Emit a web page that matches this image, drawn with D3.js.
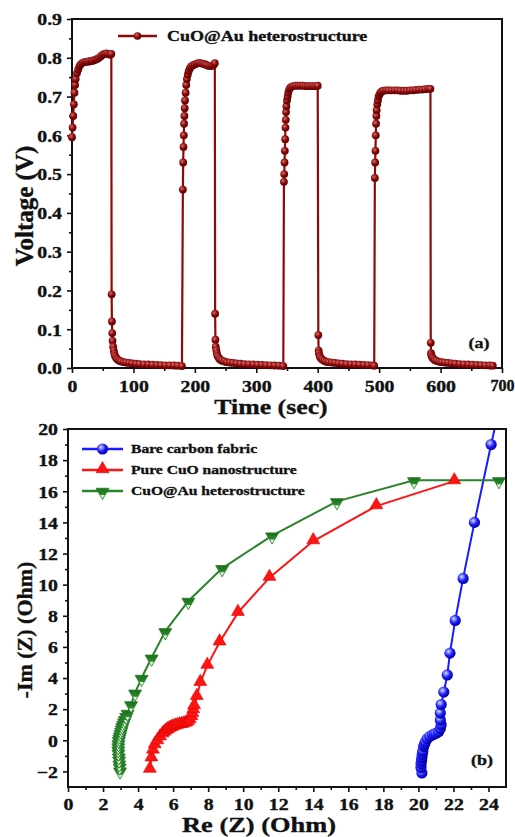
<!DOCTYPE html>
<meta charset="utf-8">
<style>
body { margin: 0; background: #fff; }
svg { display: block; }
text { font-family: "Liberation Serif", "Times New Roman", serif; font-weight: bold; fill: #111; stroke: #111; stroke-width: 0.35px; }
.domain { display: none; }
.tick line { stroke: #111; stroke-width: 1.6px; }
</style>
<svg width="515" height="837"></svg>
<script src="https://d3js.org/d3.v7.min.js"></script>
<script>

// ---- panel (a): galvanostatic charge / discharge, [time (s), voltage (V)]
const cycle1 = [[0,0.595],[1,0.62],[2,0.65],[3,0.68],[4,0.71],[5,0.73],[6,0.745],[8,0.76],[10,0.77],[12,0.778],
  [14,0.783],[17,0.787],[20,0.789],[23,0.79],[26,0.79],[29,0.791],[32,0.792],[35,0.793],[38,0.795],[41,0.797],
  [44,0.80],[47,0.804],[50,0.808],[53,0.81],[56,0.811],[59,0.81],[62,0.808],[64,0.81],
  [64.5,0.19],[65,0.12],[65.5,0.09],[66,0.07],[67,0.055],[68,0.045],[69,0.037],[70,0.031],[72,0.026],[74,0.022],
  [77,0.019],[80,0.017],[84,0.015],[88,0.014],[93,0.013],[98,0.012],[104,0.011],[110,0.010],[117,0.0095],
  [124,0.009],[131,0.0085],[138,0.008],[145,0.0075],[152,0.007],[159,0.0068],[166,0.0065],[172,0.006],[179,0.005]];
const cycle2 = [[180.5,0.46],[181,0.53],[181.5,0.57],[182,0.60],[182.5,0.63],[183,0.65],[183.5,0.67],[184,0.69],
  [185,0.71],[186,0.73],[187,0.745],[188.5,0.757],[190,0.766],[192,0.773],[194,0.778],[197,0.781],[200,0.783],
  [203,0.785],[206,0.786],[209,0.786],[212,0.785],[215,0.784],[218,0.782],[221,0.78],[224,0.779],[227,0.779],
  [230,0.781],[232.5,0.786],
  [233,0.14],[233.5,0.073],[234,0.055],[235,0.045],[236,0.037],[237,0.031],[239,0.026],[241,0.022],[244,0.019],
  [248,0.017],[252,0.015],[257,0.014],[262,0.013],[268,0.012],[274,0.011],[281,0.010],[288,0.0095],[295,0.009],
  [302,0.0085],[309,0.008],[316,0.0075],[323,0.007],[330,0.0065],[337,0.006],[344,0.005]];
const cycle3 = [[345,0.48],[345.5,0.50],[346,0.53],[346.5,0.56],[347,0.59],[347.5,0.62],[348,0.64],[348.5,0.66],
  [349,0.675],[350,0.69],[351,0.70],[352,0.71],[353.5,0.718],[355,0.722],[357,0.725],[360,0.727],[364,0.728],
  [368,0.728],[372,0.728],[376,0.728],[380,0.727],[384,0.727],[388,0.727],[392,0.727],[396,0.727],[400,0.728],
  [401,0.085],[401.5,0.045],[402,0.038],[403,0.032],[404,0.028],[406,0.024],[408,0.021],[411,0.018],[414,0.016],
  [418,0.015],[423,0.014],[428,0.013],[434,0.012],[440,0.011],[447,0.010],[454,0.0095],[461,0.009],[468,0.0085],
  [475,0.008],[482,0.0075],[489,0.007],[492,0.006]];
const cycle4 = [[493,0.49],[493.5,0.53],[494,0.56],[494.5,0.60],[495,0.63],[495.5,0.65],[496,0.665],[497,0.68],
  [498,0.69],[499,0.70],[500.5,0.705],[502,0.71],[504,0.713],[507,0.715],[511,0.716],[515,0.716],[520,0.716],
  [525,0.716],[530,0.716],[535,0.715],[540,0.715],[545,0.715],[550,0.716],[555,0.716],[560,0.717],[565,0.718],
  [570,0.718],[575,0.719],[580,0.72],[583.5,0.72],
  [584,0.065],[584.5,0.038],[585,0.033],[586,0.029],[587,0.026],[589,0.023],[591,0.02],[594,0.018],[598,0.016],
  [602,0.015],[607,0.014],[612,0.013],[618,0.012],[624,0.011],[631,0.010],[638,0.0095],[645,0.009],[652,0.0085],
  [659,0.008],[666,0.0075],[673,0.007],[680,0.0065],[685,0.006]];
const timeTicks = [0,100,200,300,400,500,600,700];
const voltTicks = [0,0.1,0.2,0.3,0.4,0.5,0.6,0.7,0.8,0.9];

// ---- panel (b): Nyquist plots, [Re(Z), -Im(Z)] in Ohm
const bareCarbon = [[20.2,-2.1],[20.15,-1.75],[20.15,-1.5],[20.18,-1.3],[20.2,-1.1],[20.22,-0.9],[20.25,-0.7],
  [20.3,-0.4],[20.35,-0.25],[20.4,-0.1],[20.5,0.1],[20.65,0.25],[20.8,0.35],[20.9,0.4],[21.0,0.45],[21.15,0.55],
  [21.25,0.75],[21.3,1.0],[21.25,1.3],[21.25,1.75],[21.3,2.3],[21.45,3.1],
  [21.65,4.2],[21.8,5.6],[22.1,7.7],[22.55,10.4],[23.2,14.0],[24.15,19.0],[24.55,21.0]];
const pureCuO = [[4.67,-1.88],[4.76,-1.15],[4.85,-0.65],[4.95,-0.3],[5.1,-0.05],[5.25,0.2],[5.4,0.4],[5.5,0.5],
  [5.6,0.6],[5.7,0.68],[5.8,0.75],[5.9,0.8],[6.0,0.85],[6.12,0.9],[6.25,0.95],[6.38,0.98],[6.5,1.0],[6.62,1.05],
  [6.75,1.1],[6.85,1.18],[6.95,1.3],[7.05,1.5],[7.1,1.7],[7.15,1.95],[7.2,2.2],[7.35,2.8],[7.55,3.7],
  [7.95,4.8],[8.65,6.3],[9.7,8.2],[11.5,10.45],[14.0,12.8],[17.6,15.05],[22.05,16.65]];
const cuoAu = [[2.97,-1.95],[2.95,-1.7],[2.93,-1.5],[2.92,-1.25],[2.9,-1.05],[2.88,-0.8],[2.87,-0.6],[2.87,-0.4],
  [2.88,-0.2],[2.9,0],[2.93,0.15],[2.96,0.3],[3.0,0.45],[3.03,0.6],[3.07,0.75],[3.1,0.9],
  [3.15,1.05],[3.2,1.2],[3.25,1.35],[3.32,1.55],[3.4,1.75],[3.6,2.3],[3.83,3.05],[4.2,4.0],[4.77,5.3],[5.55,7.0],
  [6.87,8.95],[8.8,11.05],[11.65,13.15],[15.35,15.35],[19.75,16.7],[24.6,16.7]];
const reTicks = d3.range(0, 25, 2);
const imTicks = d3.range(-2, 21, 2);
const nyquistNames = ["Bare carbon fabric", "Pure CuO nanostructure", "CuO@Au heterostructure"];

const S = 1.2; // glyphs in the figure are drawn wider than plain Times

var svg = d3.select("svg");
var defs = svg.append("defs");

function radial(id, c0, c1, c2) {
  var g = defs.append("radialGradient").attr("id", id).attr("cx", "38%").attr("cy", "35%").attr("r", "65%");
  g.append("stop").attr("offset", "0%").attr("stop-color", c0);
  g.append("stop").attr("offset", "55%").attr("stop-color", c1);
  g.append("stop").attr("offset", "100%").attr("stop-color", c2);
}
radial("ballRed", "#d86a6a", "#8b0a0a", "#5a0000");
radial("ballBlue", "#d8e0ff", "#2020ff", "#0000a0");
var gg = defs.append("linearGradient").attr("id", "triGreen").attr("x1", 0).attr("y1", 0).attr("x2", 0).attr("y2", 1);
[["0%","#2a8a2a"],["12%","#f2fff2"],["36%","#e8f8e8"],["44%","#2a8a2a"],["100%","#1c6e1c"]].forEach(function(s) {
  gg.append("stop").attr("offset", s[0]).attr("stop-color", s[1]);
});

function stretchText(sel) {
  sel.each(function() {
    var t = d3.select(this);
    var x = +t.attr("x") || 0;
    t.attr("transform", "translate(" + x + ",0) scale(" + S + ",1) translate(" + (-x) + ",0)");
  });
}

// ================= panel (a) =================
var xa = d3.scaleLinear().domain([0, 700]).range([72, 502]);
var ya = d3.scaleLinear().domain([0, 0.9]).range([368, 19]);

svg.append("g").attr("transform", "translate(0,368)")
  .call(d3.axisBottom(xa).tickValues(d3.range(50, 700, 100)).tickSize(3).tickFormat(""));
var axb = svg.append("g").attr("transform", "translate(0,368)")
  .call(d3.axisBottom(xa).tickValues(timeTicks).tickSize(5).tickFormat(d3.format("d")));
axb.selectAll("text").attr("y", 12).attr("dy", "0.71em").style("font-size", "16.5px").call(stretchText);
// last label sits at the right edge of the page: keep it whole
axb.selectAll("text").filter(function(d) { return d === 700; })
  .attr("transform", null).attr("text-anchor", "start").attr("x", -12).style("font-size", "16px");

svg.append("g").attr("transform", "translate(72,0)")
  .call(d3.axisLeft(ya).tickValues(d3.range(0.05, 0.9, 0.1)).tickSize(3).tickFormat(""));
var axl = svg.append("g").attr("transform", "translate(72,0)")
  .call(d3.axisLeft(ya).tickValues(voltTicks).tickSize(5).tickFormat(d3.format(".1f")));
axl.selectAll("text").attr("x", -10).attr("dy", "0.35em").style("font-size", "16.5px")
  .each(function() { d3.select(this).attr("transform", "scale(" + S + ",1) translate(" + (10 - 10 / S) + ",0)"); });

svg.append("rect").attr("x", 72).attr("y", 19).attr("width", 430).attr("height", 349)
  .attr("fill", "none").attr("stroke", "#111").attr("stroke-width", 2);

var gcd = [cycle1, cycle2, cycle3, cycle4].reduce(function(a, b) { return a.concat(b); }, []);
var lineA = d3.line().x(function(d) { return xa(d[0]); }).y(function(d) { return ya(d[1]); });
svg.append("path").datum(gcd).attr("d", lineA)
  .attr("fill", "none").attr("stroke", "#8b0a0a").attr("stroke-width", 2.2);
svg.append("g").selectAll("circle").data(gcd).join("circle")
  .attr("cx", function(d) { return xa(d[0]); })
  .attr("cy", function(d) { return ya(d[1]); })
  .attr("r", 3.9).attr("fill", "url(#ballRed)");

// legend (a)
svg.append("line").attr("x1", 118).attr("x2", 157).attr("y1", 36).attr("y2", 36)
  .attr("stroke", "#8b0a0a").attr("stroke-width", 2.6);
svg.append("circle").attr("cx", 137.5).attr("cy", 36).attr("r", 3.8).attr("fill", "url(#ballRed)");
svg.append("text").attr("x", 167).attr("y", 41).style("font-size", "15px")
  .text("CuO@Au heterostructure").call(stretchText);
svg.append("text").attr("x", 479).attr("y", 348).attr("text-anchor", "middle").style("font-size", "15px")
  .text("(a)").call(stretchText);

svg.append("text").attr("x", 271).attr("y", 414).attr("text-anchor", "middle").style("font-size", "21.5px")
  .text("Time (sec)").call(stretchText);
svg.append("text").attr("transform", "translate(33,206) rotate(-90)").attr("text-anchor", "middle")
  .style("font-size", "25px").text("Voltage (V)");

// ================= panel (b) =================
var xb = d3.scaleLinear().domain([0, 25]).range([68, 506]);
var yb = d3.scaleLinear().domain([-3, 20]).range([787, 429]);

svg.append("g").attr("transform", "translate(0,787)")
  .call(d3.axisBottom(xb).tickValues(d3.range(1, 25, 2)).tickSize(3).tickFormat(""));
var bxb = svg.append("g").attr("transform", "translate(0,787)")
  .call(d3.axisBottom(xb).tickValues(reTicks).tickSize(5).tickFormat(d3.format("d")));
bxb.selectAll("text").attr("y", 11).attr("dy", "0.71em").style("font-size", "16.5px").call(stretchText);

svg.append("g").attr("transform", "translate(68,0)")
  .call(d3.axisLeft(yb).tickValues(d3.range(-1, 20, 2)).tickSize(3).tickFormat(""));
var bxl = svg.append("g").attr("transform", "translate(68,0)")
  .call(d3.axisLeft(yb).tickValues(imTicks).tickSize(5).tickFormat(d3.format("d")));
bxl.selectAll("text").attr("x", -10).attr("dy", "0.35em").style("font-size", "16.5px")
  .each(function() { d3.select(this).attr("transform", "scale(" + S + ",1) translate(" + (10 - 10 / S) + ",0)"); });

defs.append("clipPath").attr("id", "clipB").append("rect")
  .attr("x", 68).attr("y", 429).attr("width", 438).attr("height", 358);

var plotB = svg.append("g").attr("clip-path", "url(#clipB)");
var lineB = d3.line().x(function(d) { return xb(d[0]); }).y(function(d) { return yb(d[1]); });
var tri = d3.symbol().type(d3.symbolTriangle).size(72);

var seriesB = [
  { data: bareCarbon, color: "#1a1aff", mark: "ball" },
  { data: pureCuO, color: "#ff1414", mark: "up" },
  { data: cuoAu, color: "#2a822a", mark: "down" }
];

function drawMark(g, kind, x, y) {
  if (kind === "ball") {
    g.append("circle").attr("cx", x).attr("cy", y).attr("r", 5.6).attr("fill", "url(#ballBlue)");
  } else if (kind === "up") {
    g.append("path").attr("d", tri()).attr("transform", "translate(" + x + "," + (y - 1) + ")")
      .attr("fill", "#ff1414").attr("stroke", "#e00000").attr("stroke-width", 0.6);
  } else {
    g.append("path").attr("d", tri()).attr("transform", "translate(" + x + "," + (y + 1) + ") rotate(180)")
      .attr("fill", "url(#triGreen)").attr("stroke", "#2a822a").attr("stroke-width", 0.9);
  }
}

seriesB.forEach(function(s) {
  plotB.append("path").datum(s.data).attr("d", lineB)
    .attr("fill", "none").attr("stroke", s.color).attr("stroke-width", 2);
});
seriesB.forEach(function(s) {
  var g = plotB.append("g");
  s.data.forEach(function(d) { drawMark(g, s.mark, xb(d[0]), yb(d[1])); });
});

svg.append("rect").attr("x", 68).attr("y", 429).attr("width", 438).attr("height", 358)
  .attr("fill", "none").attr("stroke", "#111").attr("stroke-width", 2);

// legend (b)
var lgY = [449, 470, 491];
seriesB.forEach(function(s, i) {
  svg.append("line").attr("x1", 82).attr("x2", 123).attr("y1", lgY[i]).attr("y2", lgY[i])
    .attr("stroke", s.color).attr("stroke-width", 2.4);
  drawMark(svg, s.mark, 102.5, lgY[i]);
  svg.append("text").attr("x", 131).attr("y", lgY[i] + 4.5).style("font-size", "13px")
    .text(nyquistNames[i]).call(stretchText);
});
svg.append("text").attr("x", 482).attr("y", 765).attr("text-anchor", "middle").style("font-size", "15px")
  .text("(b)").call(stretchText);

svg.append("text").attr("x", 259).attr("y", 832).attr("text-anchor", "middle").style("font-size", "22px")
  .text("Re (Z) (Ohm)").call(stretchText);
svg.append("text").attr("transform", "translate(32,630) rotate(-90)").attr("text-anchor", "middle")
  .style("font-size", "22px").text("-Im (Z) (Ohm)");
</script>
